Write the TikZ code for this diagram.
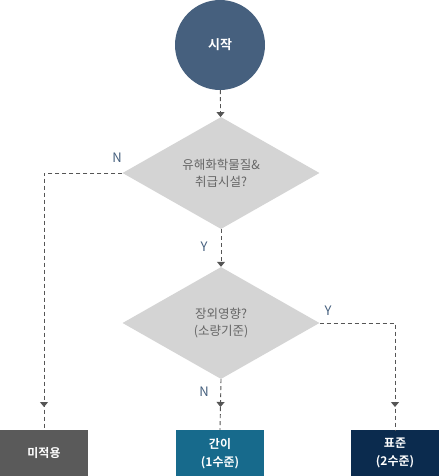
\documentclass[tikz,border=0pt]{standalone}
\usepackage{fontspec}
\setmainfont{Noto Sans CJK KR}
\newfontfamily\krbold{Noto Sans CJK KR Bold}
\usetikzlibrary{shapes.geometric, arrows.meta, positioning, decorations.markings}

\definecolor{startblue}{HTML}{46607E}
\definecolor{decgray}{HTML}{D4D4D4}
\definecolor{dectext}{HTML}{666666}
\definecolor{linegray}{HTML}{555555}
\definecolor{boxgray}{HTML}{5A5A5A}
\definecolor{boxteal}{HTML}{176A8C}
\definecolor{boxnavy}{HTML}{0B2B4E}

\begin{document}
\begin{tikzpicture}[x=1pt, y=-1pt,
        decision/.style={diamond, fill=decgray, text=dectext, inner sep=0pt,
            minimum width=197pt, minimum height=112pt, align=center,
            font=\fontsize{12.5}{17}\selectfont},
        result/.style={rectangle, text=white, minimum width=88pt, minimum height=46pt,
            anchor=north, align=center, font=\krbold\fontsize{12}{18}\selectfont},
        flow/.style={draw=linegray, line width=0.9pt, dash pattern=on 4pt off 3pt},
        tip/.style={-{Triangle[width=8pt,length=5pt]}},
        midtip/.style={postaction={decorate, decoration={markings,
            mark=at position -23pt with {\arrow{Triangle[width=8pt,length=5pt]}}}}},
        yn/.style={text=startblue, font=\fontsize{13}{15}\selectfont}]
        \useasboundingbox (0,0) rectangle (439,476);

        % Start
        \node[circle, fill=startblue, minimum size=90pt, text=white,
            font=\krbold\fontsize{13}{15}\selectfont] (start) at (220,45) {시작};

        % Decisions
        \node[decision] (q1) at (221,173) {유해화학물질\&\\취급시설?};
        \node[decision] (q2) at (221,323) {장외영향?\\(소량기준)};

        % Results
        \node[result, fill=boxgray] (none) at (44,430) {미적용};
        \node[result, fill=boxteal] (simple) at (220,430) {간이\\(1수준)};
        \node[result, fill=boxnavy] (standard) at (395,430) {표준\\(2수준)};

        % Connectors
        \draw[flow, tip] (start) -- (q1);
        \draw[flow, tip] (q1) -- (q2);
        \draw[flow, midtip] (q1.west) -| (none.north);
        \draw[flow, midtip] (q2.south) -- (simple.north);
        \draw[flow, midtip] (q2.east) -| (standard.north);

        % Branch labels
        \node[yn] (n1) at (117,158) {N};
        \node[yn] (y1) at (204,247) {Y};
        \node[yn] (y2) at (328,311) {Y};
        \node[yn] (n2) at (204,392) {N};
    \end{tikzpicture}
\end{document}
